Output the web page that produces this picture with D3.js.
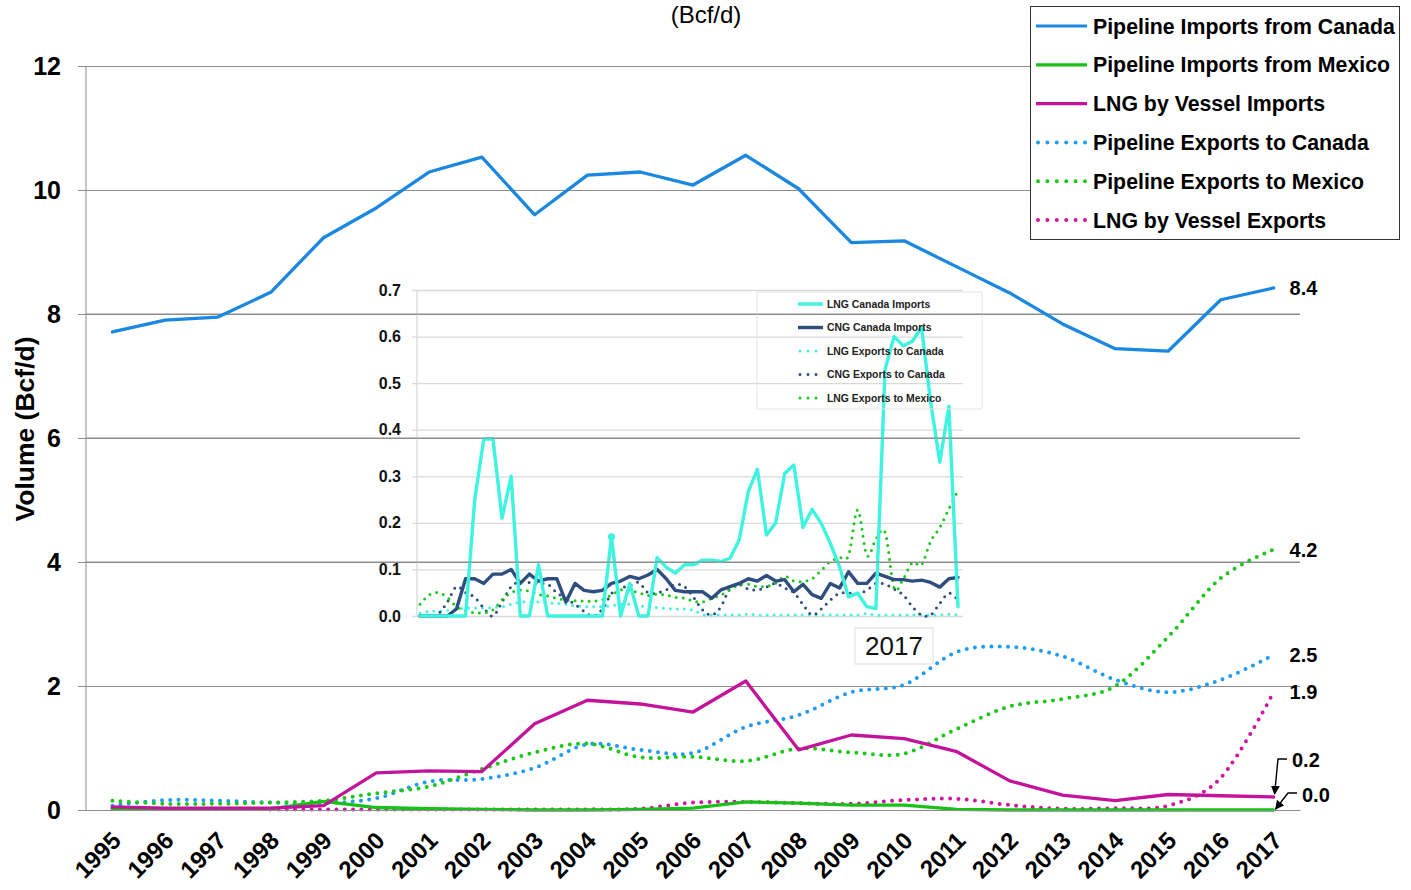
<!DOCTYPE html>
<html>
<head>
<meta charset="utf-8">
<script src="https://cdn.jsdelivr.net/npm/d3@7"></script>
<style>
  html, body { margin: 0; padding: 0; background: #fff; }
  svg { display: block; font-family: "Liberation Sans", Arial, sans-serif; }
</style>
</head>
<body>
<svg id="chart" width="1411" height="890"></svg>
<script>
// ---- Annual U.S. natural gas trade, 1995-2017 (Bcf/d) ----
const years = ["1995","1996","1997","1998","1999","2000","2001","2002","2003","2004","2005",
  "2006","2007","2008","2009","2010","2011","2012","2013","2014","2015","2016","2017"];

const pipelineImportsCanada = [7.71,7.90,7.95,8.35,9.23,9.71,10.29,10.53,9.60,10.24,10.29,
  10.08,10.56,10.02,9.15,9.18,8.76,8.34,7.84,7.44,7.40,8.23,8.42];
const pipelineImportsMexico = [0.01,0.01,0.01,0.02,0.14,0.04,0.02,0.01,0.00,0.00,0.01,
  0.03,0.13,0.11,0.08,0.08,0.01,0.00,0.00,0.00,0.00,0.00,0.00];
const lngVesselImports = [0.05,0.03,0.03,0.03,0.07,0.60,0.63,0.62,1.39,1.77,1.71,
  1.58,2.08,0.97,1.21,1.15,0.94,0.47,0.24,0.15,0.25,0.23,0.21];
const pipelineExportsCanada = [0.07,0.16,0.15,0.12,0.11,0.19,0.46,0.50,0.68,1.06,0.97,
  0.92,1.34,1.53,1.90,2.02,2.55,2.63,2.48,2.10,1.90,2.10,2.50];
const pipelineExportsMexico = [0.15,0.10,0.10,0.12,0.15,0.27,0.38,0.66,0.93,1.07,0.85,
  0.86,0.79,0.99,0.93,0.91,1.31,1.67,1.79,2.00,2.79,3.74,4.20];
const lngVesselExports = [0.03,0.02,0.02,0.01,0.01,0.01,0.01,0.01,0.01,0.01,0.02,
  0.12,0.13,0.11,0.10,0.16,0.18,0.08,0.02,0.03,0.07,0.52,1.90];

const mainTicks = [0, 2, 4, 6, 8, 10, 12];

// ---- Small-volume trade by truck (quarterly through 2017, Bcf/d) ----
const lngCanadaImports = [0,0,0,0,0,0,0.25,0.38,0.38,0.21,
  0.30,0,0,0.11,0,0,0,0,0,0,
  0,0.17,0,0.07,0,0,0.125,0.105,0.092,0.11,
  0.11,0.12,0.12,0.117,0.124,0.163,0.267,0.315,0.174,0.20,
  0.306,0.324,0.19,0.229,0.199,0.156,0.106,0.041,0.049,0.02,
  0.016,0.53,0.60,0.58,0.59,0.62,0.46,0.33,0.45,0.02];
const cngCanadaImports = [0,0,0,0,0.015,0.08,0.08,0.07,0.09,0.09,
  0.10,0.07,0.09,0.075,0.08,0.08,0.03,0.07,0.055,0.052,
  0.055,0.07,0.075,0.085,0.08,0.088,0.10,0.08,0.055,0.052,
  0.052,0.052,0.038,0.056,0.063,0.07,0.08,0.075,0.087,0.075,
  0.078,0.052,0.068,0.046,0.038,0.07,0.06,0.095,0.07,0.07,
  0.092,0.085,0.078,0.078,0.075,0.077,0.072,0.062,0.08,0.083];
const lngExportsCanada = [0.006,0.01,0.01,0.012,0.015,0.017,0.017,0.017,0.018,0.02,
  0.025,0.03,0.03,0.03,0.028,0.027,0.025,0.022,0.02,0.02,
  0.02,0.022,0.025,0.025,0.022,0.02,0.018,0.016,0.015,0.015,
  0.012,0.003,0.002,0.002,0.002,0.002,0.004,0.002,0.002,0.002,
  0.002,0.002,0.002,0.002,0.002,0.002,0.002,0.002,0.002,0.005,
  0.002,0.002,0.002,0.002,0.002,0.002,0.002,0.002,0.004,0.002];
const cngExportsCanada = [0,0,0.005,0.03,0.063,0.05,0.04,0.017,0,0.03,
  0.063,0.074,0.072,0.07,0.068,0.05,0.037,0.025,0.01,0,
  0.015,0.048,0.06,0.065,0.072,0.05,0.05,0.056,0.068,0.063,
  0.04,0.013,0.002,0.02,0.06,0.067,0.058,0.056,0.062,0.07,
  0.06,0.05,0.025,0.002,0.015,0.034,0.049,0.049,0.049,0.055,
  0.07,0.068,0.058,0.045,0.02,0.002,0.002,0.027,0.049,0.034];
const lngExportsMexico = [0.025,0.045,0.05,0.04,0.02,0.011,0.007,0.007,0.013,0.035,
  0.05,0.056,0.053,0.046,0.043,0.038,0.034,0.033,0.032,0.032,
  0.035,0.045,0.056,0.055,0.05,0.044,0.047,0.045,0.04,0.038,
  0.032,0.03,0.038,0.045,0.056,0.067,0.068,0.063,0.064,0.07,
  0.085,0.075,0.074,0.08,0.098,0.117,0.125,0.13,0.228,0.13,
  0.165,0.18,0.06,0.08,0.115,0.11,0.16,0.19,0.23,0.27];
const insetTicks = [0, 0.1, 0.2, 0.3, 0.4, 0.5, 0.6, 0.7];

const svg = d3.select("#chart");
const font = "'Liberation Sans', Arial, sans-serif";

// ---------- main scales ----------
const x = d3.scaleBand().domain(years).range([86, 1300]);
const xc = d => x(d) + x.bandwidth() / 2;
const y = d3.scaleLinear().domain([0, 12]).range([810, 66]);

// gridlines + left ticks
const yAxis = d3.axisLeft(y).tickValues(mainTicks).tickSize(-(1300 - 86)).tickPadding(25)
  .tickFormat(d3.format("d"));
const gy = svg.append("g").attr("transform", "translate(86,0)").call(yAxis);
gy.select(".domain").remove();
gy.selectAll(".tick line").attr("stroke", "#8c8c8c").attr("stroke-width", 1).attr("x1", -8);
gy.selectAll(".tick text").attr("font-size", 25).attr("font-weight", "bold")
  .attr("font-family", font).attr("fill", "#000");
svg.append("line").attr("x1", 86).attr("x2", 86).attr("y1", 66).attr("y2", 810)
  .attr("stroke", "#8c8c8c");

// ---------- inset ----------
const ix = d3.scaleLinear().domain([0, lngCanadaImports.length - 1]).range([420, 958]);
const iy = d3.scaleLinear().domain([0, 0.7]).range([616, 290]);
const inset = svg.append("g");
const iAxis = d3.axisLeft(iy).tickValues(insetTicks).tickSize(-(963 - 417)).tickPadding(16)
  .tickFormat(d3.format(".1f"));
const gi = inset.append("g").attr("transform", "translate(417,0)").call(iAxis);
gi.select(".domain").remove();
gi.selectAll(".tick line").attr("stroke", "#d9d9d9").attr("stroke-width", 1.3).attr("x1", -5);
gi.selectAll(".tick text").attr("font-size", 16).attr("font-weight", "bold")
  .attr("font-family", font).attr("fill", "#111");
inset.append("line").attr("x1", 417).attr("x2", 417).attr("y1", 290).attr("y2", 616)
  .attr("stroke", "#d9d9d9").attr("stroke-width", 1.3);

// the main 8/6/4 gridlines read over the inset
svg.append("g").selectAll("line").data([4, 6, 8]).join("line")
  .attr("x1", 86).attr("x2", 1300).attr("y1", d => y(d)).attr("y2", d => y(d))
  .attr("stroke", "#8c8c8c");

const insetSeries = [
  { name: "LNG Exports to Canada", values: lngExportsCanada, color: "#44f2e0", dotted: true },
  { name: "CNG Exports to Canada", values: cngExportsCanada, color: "#2d4e7e", dotted: true },
  { name: "LNG Exports to Mexico", values: lngExportsMexico, color: "#19c819", dotted: true },
  { name: "CNG Canada Imports", values: cngCanadaImports, color: "#2d4e7e", dotted: false },
  { name: "LNG Canada Imports", values: lngCanadaImports, color: "#3ef3e0", dotted: false }
];
insetSeries.forEach(s => {
  const line = d3.line().x((d, i) => ix(i)).y(d => iy(d))
    .curve(s.dotted ? d3.curveCardinal.tension(0) : d3.curveLinear);
  inset.append("path").attr("d", line(s.values)).attr("fill", "none")
    .attr("stroke", s.color)
    .attr("stroke-width", s.dotted ? 3 : 3.4)
    .attr("stroke-linecap", "round").attr("stroke-linejoin", "round")
    .attr("stroke-dasharray", s.dotted ? "0 7" : null);
});
// marker on the 0.17 spike
inset.append("circle").attr("cx", ix(21)).attr("cy", iy(lngCanadaImports[21])).attr("r", 3.6)
  .attr("fill", "#3ef3e0");

// inset legend
const insetLegendOrder = ["LNG Canada Imports", "CNG Canada Imports", "LNG Exports to Canada",
  "CNG Exports to Canada", "LNG Exports to Mexico"];
inset.append("rect").attr("x", 757).attr("y", 292).attr("width", 225).attr("height", 117)
  .attr("fill", "none").attr("stroke", "#e4e4e4");
insetLegendOrder.forEach((name, k) => {
  const s = insetSeries.find(t => t.name === name);
  const ly = 304 + k * 23.5;
  inset.append("line").attr("x1", s.dotted ? 800 : 798).attr("x2", s.dotted ? 822 : 823)
    .attr("y1", ly).attr("y2", ly).attr("stroke", s.color)
    .attr("stroke-width", s.dotted ? 3 : 3.4)
    .attr("stroke-linecap", s.dotted ? "round" : "butt")
    .attr("stroke-dasharray", s.dotted ? "0 8" : null);
  inset.append("text").attr("x", 827).attr("y", ly).attr("dy", "0.35em")
    .attr("font-size", 10.4).attr("font-weight", "bold").attr("fill", "#222").text(name);
});

// year box
inset.append("rect").attr("x", 855).attr("y", 628).attr("width", 78).attr("height", 36)
  .attr("fill", "#fff").attr("stroke", "#dcdcdc");
inset.append("text").attr("x", 894).attr("y", 646).attr("dy", "0.36em")
  .attr("text-anchor", "middle").attr("font-size", 26).attr("fill", "#111").text("2017");

// ---------- main series ----------
const mainSeries = [
  { name: "Pipeline Imports from Canada", values: pipelineImportsCanada, color: "#1a87e0", dotted: false },
  { name: "Pipeline Imports from Mexico", values: pipelineImportsMexico, color: "#18c018", dotted: false },
  { name: "LNG by Vessel Imports", values: lngVesselImports, color: "#c4139b", dotted: false },
  { name: "Pipeline Exports to Canada", values: pipelineExportsCanada, color: "#1e9cf5", dotted: true },
  { name: "Pipeline Exports to Mexico", values: pipelineExportsMexico, color: "#19c819", dotted: true },
  { name: "LNG by Vessel Exports", values: lngVesselExports, color: "#d0159f", dotted: true }
];
const drawOrder = [5, 3, 4, 1, 2, 0];
drawOrder.forEach(k => {
  const s = mainSeries[k];
  const line = d3.line().x((d, i) => xc(years[i])).y(d => y(d))
    .curve(s.dotted ? d3.curveCardinal.tension(0) : d3.curveLinear);
  svg.append("path").attr("d", line(s.values)).attr("fill", "none")
    .attr("stroke", s.color).attr("stroke-width", s.dotted ? 4 : 3.3)
    .attr("stroke-linecap", "round").attr("stroke-linejoin", "round")
    .attr("stroke-dasharray", s.dotted ? "0 8.3" : null);
});

// x axis labels
const gx = svg.append("g").attr("transform", "translate(0,810)")
  .call(d3.axisBottom(x).tickSize(0).tickPadding(0));
gx.select(".domain").attr("stroke", "#8c8c8c");
gx.selectAll(".tick text")
  .attr("font-size", 24).attr("font-weight", "bold").attr("font-family", font).attr("fill", "#000")
  .attr("text-anchor", "end").attr("dy", 0)
  .attr("transform", "translate(10,32) rotate(-45)");

// axis title and header
svg.append("text").attr("transform", "translate(34,429) rotate(-90)")
  .attr("text-anchor", "middle").attr("font-size", 26.5).attr("font-weight", "bold")
  .attr("fill", "#000").text("Volume (Bcf/d)");
svg.append("text").attr("x", 706).attr("y", 23).attr("text-anchor", "middle")
  .attr("font-size", 24).attr("fill", "#000").text("(Bcf/d)");

// end-of-series value labels
const fmt = d3.format(".1f");
const last = years[years.length - 1];
const endLabels = [
  { v: pipelineImportsCanada, dx: 16, dy: 0 },
  { v: pipelineExportsMexico, dx: 16, dy: 0 },
  { v: pipelineExportsCanada, dx: 16, dy: 0 },
  { v: lngVesselExports, dx: 16, dy: 0 }
];
endLabels.forEach(l => {
  const val = l.v[l.v.length - 1];
  svg.append("text").attr("x", xc(last) + l.dx).attr("y", y(val) + l.dy).attr("dy", "0.36em")
    .attr("font-size", 20).attr("font-weight", "bold").attr("fill", "#000").text(fmt(val));
});

// callouts for the two values close to zero
svg.append("defs").append("marker").attr("id", "arrowhead")
  .attr("viewBox", "0 0 10 10").attr("refX", 9).attr("refY", 5)
  .attr("markerWidth", 9).attr("markerHeight", 9).attr("orient", "auto")
  .attr("markerUnits", "userSpaceOnUse")
  .append("path").attr("d", "M0,0 L10,5 L0,10 z").attr("fill", "#000");
const lngEnd = lngVesselImports[lngVesselImports.length - 1];
const mexEnd = pipelineImportsMexico[pipelineImportsMexico.length - 1];
const callouts = [
  { val: lngEnd, lx: 1292, ly: 760, pts: [[1287, 759], [1278, 759], [xc(last) + 1, y(lngEnd) - 3]] },
  { val: mexEnd, lx: 1302, ly: 795, pts: [[1297, 793], [1288, 793], [xc(last) + 2, y(mexEnd) - 1]] }
];
callouts.forEach(c => {
  svg.append("path").attr("d", d3.line()(c.pts)).attr("fill", "none").attr("stroke", "#000")
    .attr("stroke-width", 1.4).attr("marker-end", "url(#arrowhead)");
  svg.append("text").attr("x", c.lx).attr("y", c.ly).attr("dy", "0.36em")
    .attr("font-size", 20).attr("font-weight", "bold").attr("fill", "#000").text(fmt(c.val));
});

// ---------- legend ----------
const lg = svg.append("g");
lg.append("rect").attr("x", 1030.5).attr("y", 6.5).attr("width", 369).attr("height", 233)
  .attr("fill", "#fff").attr("stroke", "#333").attr("stroke-width", 1);
mainSeries.forEach((s, k) => {
  const ly = 26 + k * 38.8;
  lg.append("line").attr("x1", s.dotted ? 1038 : 1036).attr("x2", s.dotted ? 1085 : 1087)
    .attr("y1", ly).attr("y2", ly).attr("stroke", s.color)
    .attr("stroke-width", s.dotted ? 4 : 3.2)
    .attr("stroke-linecap", s.dotted ? "round" : "butt")
    .attr("stroke-dasharray", s.dotted ? "0 9.4" : null);
  lg.append("text").attr("x", 1093).attr("y", ly).attr("dy", "0.36em")
    .attr("font-size", 21.3).attr("font-weight", "bold").attr("fill", "#000").text(s.name);
});
</script>
</body>
</html>
